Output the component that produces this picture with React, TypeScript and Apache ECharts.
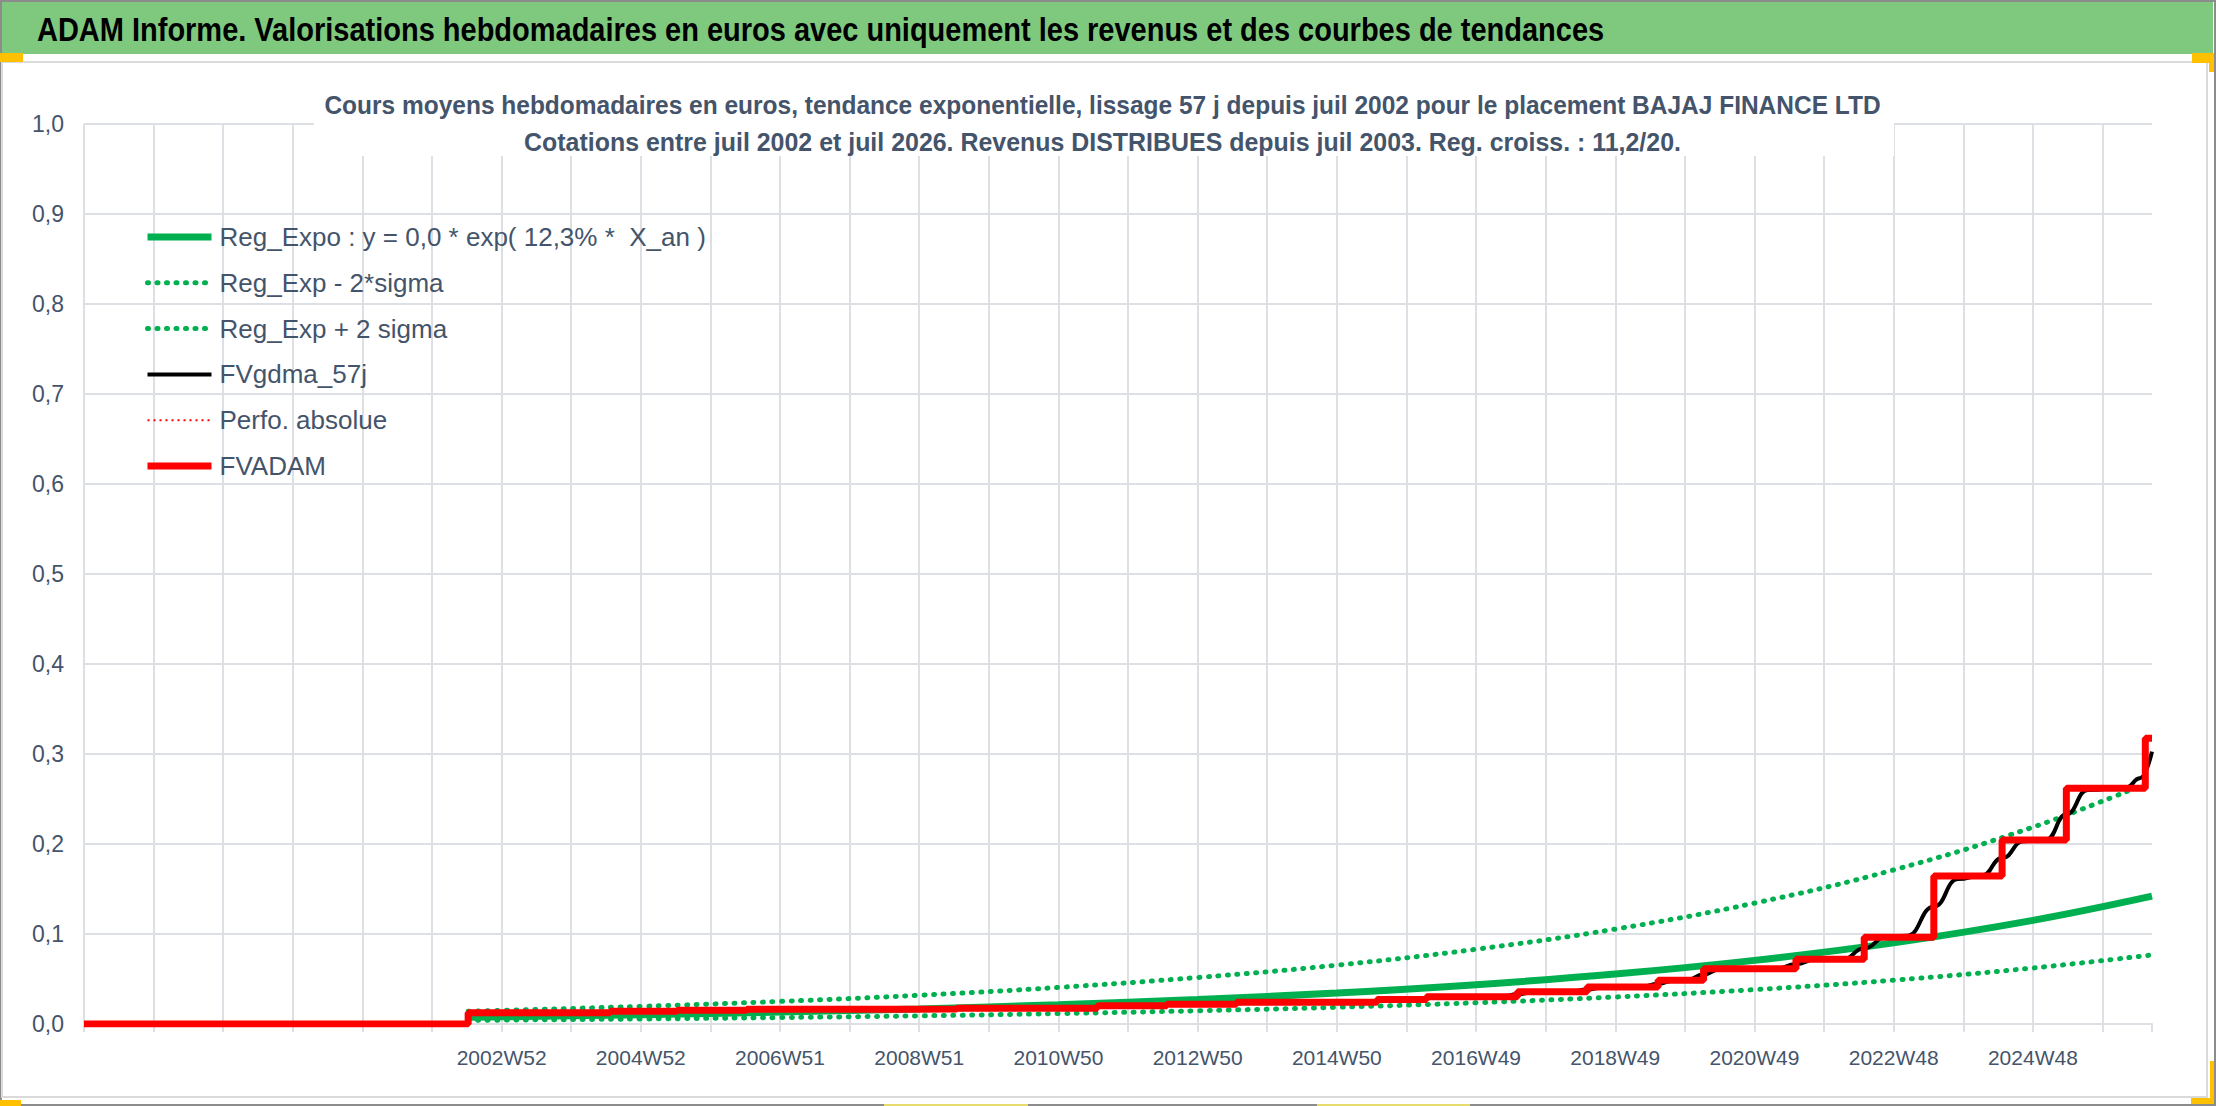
import React, { useEffect, useRef } from 'react';
import * as echarts from 'echarts';

const PAGE_W = 2216;
const PAGE_H = 1106;
const FONT = "'Liberation Sans', Arial, sans-serif";
const TXT = '#44546a';
const GRID = '#dcdfe4';
const GREEN = '#00b050';
const RED = '#ff0000';

const headerTitle =
  'ADAM Informe. Valorisations hebdomadaires en euros avec uniquement les revenus et des courbes de tendances';
const subtitle1 =
  'Cours moyens hebdomadaires en euros, tendance exponentielle, lissage 57 j depuis juil 2002 pour le placement BAJAJ FINANCE LTD';
const subtitle2 =
  'Cotations entre juil 2002 et juil 2026. Revenus DISTRIBUES depuis juil 2003. Reg. croiss. : 11,2/20.';

const seriesNames = [
  'Reg_Expo : y = 0,0 * exp( 12,3% *  X_an )',
  'Reg_Exp - 2*sigma',
  'Reg_Exp + 2 sigma',
  'FVgdma_57j',
  'Perfo. absolue',
  'FVADAM',
];

// x axis: weekly categories (index of week), gridline every 52 weeks, label every 104 weeks
const lastWeekIndex = 1545;
const gridWeeks = 52;
const firstLabelIndex = 312;
const labelWeeks = 104;
const xTickLabels = [
  '2002W52', '2004W52', '2006W51', '2008W51', '2010W50', '2012W50',
  '2014W50', '2016W49', '2018W49', '2020W49', '2022W48', '2024W48',
];
const yTickLabels = ['0,0', '0,1', '0,2', '0,3', '0,4', '0,5', '0,6', '0,7', '0,8', '0,9', '1,0'];

// [week index, value]
const regExpo = [
  [287, 0.0075], [312, 0.008], [416, 0.0103], [520, 0.0132], [624, 0.0168],
  [728, 0.0214], [832, 0.0272], [936, 0.0344], [1040, 0.0437], [1144, 0.0555],
  [1248, 0.0707], [1352, 0.0901], [1456, 0.1151], [1545, 0.142],
];
const regLow = [
  [287, 0.00405], [312, 0.00432], [416, 0.00557], [520, 0.00714], [624, 0.00908],
  [728, 0.01157], [832, 0.0147], [936, 0.0186], [1040, 0.02362], [1144, 0.03],
  [1248, 0.03822], [1352, 0.0487], [1456, 0.06222], [1545, 0.07676],
];
const regHigh = [
  [287, 0.01425], [312, 0.0152], [416, 0.01957], [520, 0.02508], [624, 0.03192],
  [728, 0.04066], [832, 0.05168], [936, 0.06536], [1040, 0.08303], [1144, 0.10545],
  [1248, 0.13433], [1352, 0.17119], [1456, 0.21869], [1545, 0.2698],
];
const fvGdma = [
  [287, 0.0126], [380, 0.0126], [393, 0.0134], [406, 0.0142], [430, 0.0142], [443, 0.0147],
  [456, 0.0152], [482, 0.0152], [495, 0.0158], [508, 0.0163], [590, 0.0163], [603, 0.0166],
  [616, 0.0168], [639, 0.0168], [652, 0.0172], [665, 0.0176], [744, 0.0176], [757, 0.0189],
  [770, 0.0202], [796, 0.0202], [809, 0.021], [822, 0.0219], [848, 0.0219], [861, 0.023],
  [874, 0.0241], [953, 0.0241], [966, 0.0256], [979, 0.0272], [990, 0.0272], [1003, 0.0287],
  [1016, 0.0302], [1058, 0.0302], [1071, 0.033], [1084, 0.0357], [1110, 0.0357], [1123, 0.0384],
  [1136, 0.041], [1163, 0.041], [1176, 0.0448], [1189, 0.0487], [1197, 0.0487], [1210, 0.055],
  [1223, 0.0613], [1264, 0.0613], [1279, 0.0666], [1294, 0.0719], [1314, 0.0719], [1330, 0.0841],
  [1346, 0.0963], [1362, 0.098], [1382, 0.1303], [1400, 0.161], [1418, 0.165], [1433, 0.1844],
  [1449, 0.203], [1466, 0.205], [1481, 0.233], [1497, 0.26], [1526, 0.263], [1536, 0.273],
  [1545, 0.3026],
];
const perfoAbsolue: number[][] = [];
const fvAdam = [
  [0, 0], [287, 0.0126], [393, 0.0142], [443, 0.0152], [495, 0.0163], [603, 0.0168],
  [652, 0.0176], [757, 0.0202], [809, 0.0219], [861, 0.0241], [966, 0.0272], [1003, 0.0302],
  [1071, 0.0357], [1123, 0.041], [1176, 0.0487], [1210, 0.0613], [1279, 0.0719], [1330, 0.0963],
  [1382, 0.1644], [1433, 0.2044], [1481, 0.2619], [1540, 0.3174], [1545, 0.3174],
];

function textWidth(text: string, font: string): number {
  const ctx = document.createElement('canvas').getContext('2d');
  if (!ctx) return 1;
  ctx.font = font;
  return ctx.measureText(text).width || 1;
}

const thick = (color: string, width: number) => ({ color, width, type: 'solid', cap: 'butt' });
const dotted = { color: GREEN, width: 5, type: [1, 8.5], cap: 'round' };
const redDotted = { color: RED, width: 2, type: [2, 4], cap: 'butt' };

export default function App() {
  const ref = useRef<HTMLDivElement>(null);

  useEffect(() => {
    document.body.style.margin = '0';
    if (!ref.current) return;
    const chart = echarts.init(ref.current, undefined, { renderer: 'svg' });

    const hFont = `bold 34px ${FONT}`;
    const sFont = `bold 26px ${FONT}`;
    const s0 = 1568 / textWidth(headerTitle, hFont);
    const s1 = 1557 / textWidth(subtitle1, sFont);
    const s2 = 1157 / textWidth(subtitle2, sFont);

    const lineStyles = [
      thick(GREEN, 7), dotted, dotted, thick('#000000', 4), redDotted, thick(RED, 7),
    ];
    const datas = [regExpo, regLow, regHigh, fvGdma, perfoAbsolue, fvAdam];

    const series = seriesNames.map((name, i) => {
      const s: any = {
        name,
        type: 'line',
        data: datas[i],
        showSymbol: false,
        symbol: 'none',
        lineStyle: lineStyles[i],
        itemStyle: { color: lineStyles[i].color },
        z: 2 + i,
        silent: true,
      };
      if (i <= 2) s.smooth = 0.4;
      if (i === 3) {
        s.smooth = 0.5;
        s.smoothMonotone = 'x';
      }
      if (i === 5) s.step = 'end';
      return s;
    });

    const legendSize = 26;
    const lh = 31;

    const option = {
      animation: false,
      backgroundColor: 'transparent',
      grid: { left: 84, top: 124, width: 2068, height: 900, containLabel: false },
      xAxis: {
        type: 'value',
        min: 0,
        max: lastWeekIndex,
        interval: gridWeeks,
        axisLine: { show: true, lineStyle: { color: GRID, width: 2 } },
        axisTick: { show: true, length: 8, lineStyle: { color: GRID, width: 2 } },
        axisLabel: {
          show: true,
          margin: 23,
          fontSize: 21,
          fontFamily: FONT,
          color: TXT,
          hideOverlap: false,
          showMinLabel: true,
          showMaxLabel: true,
          formatter: (v: number) => {
            const k = Math.round((v - firstLabelIndex) / labelWeeks);
            if (Math.abs(v - (firstLabelIndex + k * labelWeeks)) > 0.01) return '';
            return k >= 0 && k < xTickLabels.length ? xTickLabels[k] : '';
          },
        },
        splitLine: { show: true, showMaxLine: false, lineStyle: { color: GRID, width: 2 } },
      },
      yAxis: {
        type: 'value',
        min: 0,
        max: 1,
        interval: 0.1,
        axisLine: { show: false },
        axisTick: { show: false },
        axisLabel: {
          margin: 20,
          fontSize: 23,
          fontFamily: FONT,
          color: TXT,
          formatter: (v: number) => yTickLabels[Math.round(v * 10)] ?? '',
        },
        splitLine: { show: true, lineStyle: { color: GRID, width: 2 } },
      },
      legend: {
        orient: 'vertical',
        left: 144,
        top: 237 - lh / 2,
        padding: 0,
        itemWidth: 64,
        itemHeight: 14,
        itemGap: 45.8 - lh,
        selectedMode: false,
        textStyle: { fontSize: legendSize, fontFamily: FONT, color: TXT, lineHeight: lh, padding: [0, 0, 0, 3] },
        data: seriesNames.map((name, i) => ({
          name,
          lineStyle: { ...lineStyles[i] },
          itemStyle: { color: 'transparent', borderWidth: 0, opacity: 0 },
        })),
      },
      series,
      graphic: [
        {
          type: 'rect',
          silent: true,
          z: 50,
          shape: { x: 314, y: 72, width: 1580, height: 84 },
          style: { fill: '#ffffff' },
        },
        {
          type: 'text',
          silent: true,
          z: 60,
          x: 37,
          y: 29,
          scaleX: s0,
          style: {
            text: headerTitle,
            fontSize: 34,
            fontWeight: 'bold',
            fontFamily: FONT,
            fill: '#000000',
            align: 'left',
            textAlign: 'left',
            verticalAlign: 'middle',
            textVerticalAlign: 'middle',
          },
        },
        {
          type: 'text',
          silent: true,
          z: 60,
          x: 1102.5,
          y: 105,
          scaleX: s1,
          style: {
            text: subtitle1,
            fontSize: 26,
            fontWeight: 'bold',
            fontFamily: FONT,
            fill: TXT,
            align: 'center',
            textAlign: 'center',
            verticalAlign: 'middle',
            textVerticalAlign: 'middle',
          },
        },
        {
          type: 'text',
          silent: true,
          z: 60,
          x: 1102.5,
          y: 142,
          scaleX: s2,
          style: {
            text: subtitle2,
            fontSize: 26,
            fontWeight: 'bold',
            fontFamily: FONT,
            fill: TXT,
            align: 'center',
            textAlign: 'center',
            verticalAlign: 'middle',
            textVerticalAlign: 'middle',
          },
        },
      ],
    };

    chart.setOption(option as any);
    return () => chart.dispose();
  }, []);

  const abs = (l: number, t: number, w: number, h: number, bg: string, extra: any = {}) => ({
    position: 'absolute' as const,
    left: l,
    top: t,
    width: w,
    height: h,
    background: bg,
    ...extra,
  });

  return (
    <div style={{ position: 'relative', width: PAGE_W, height: PAGE_H, background: '#ffffff', overflow: 'hidden' }}>
      {/* outer frame */}
      <div style={abs(0, 0, PAGE_W, PAGE_H, 'transparent', { boxSizing: 'border-box', border: '2px solid #8c8c8c' })} />
      {/* header band */}
      <div style={abs(2, 2, 2211, 52, '#7fc97f')} />
      {/* chart area border */}
      <div style={abs(1, 61, 2207, 1037, 'transparent', { boxSizing: 'border-box', border: '2px solid #dadada' })} />
      {/* selection handles */}
      <div style={abs(0, 53, 23, 9, '#ffc000')} />
      <div style={abs(2192, 53, 21, 10, '#ffc000')} />
      <div style={abs(2209, 53, 5, 19, '#ffc000')} />
      <div style={abs(2210, 1061, 4, 42, '#ffc000')} />
      <div style={abs(2191, 1098, 23, 6, '#ffc000')} />
      <div style={abs(0, 1100, 21, 6, '#ffc000')} />
      <div style={abs(884, 1104, 144, 2, '#e6dc6e')} />
      <div style={abs(1317, 1104, 153, 2, '#e6dc6e')} />
      <div ref={ref} style={abs(0, 0, PAGE_W, PAGE_H, 'transparent')} />
    </div>
  );
}
